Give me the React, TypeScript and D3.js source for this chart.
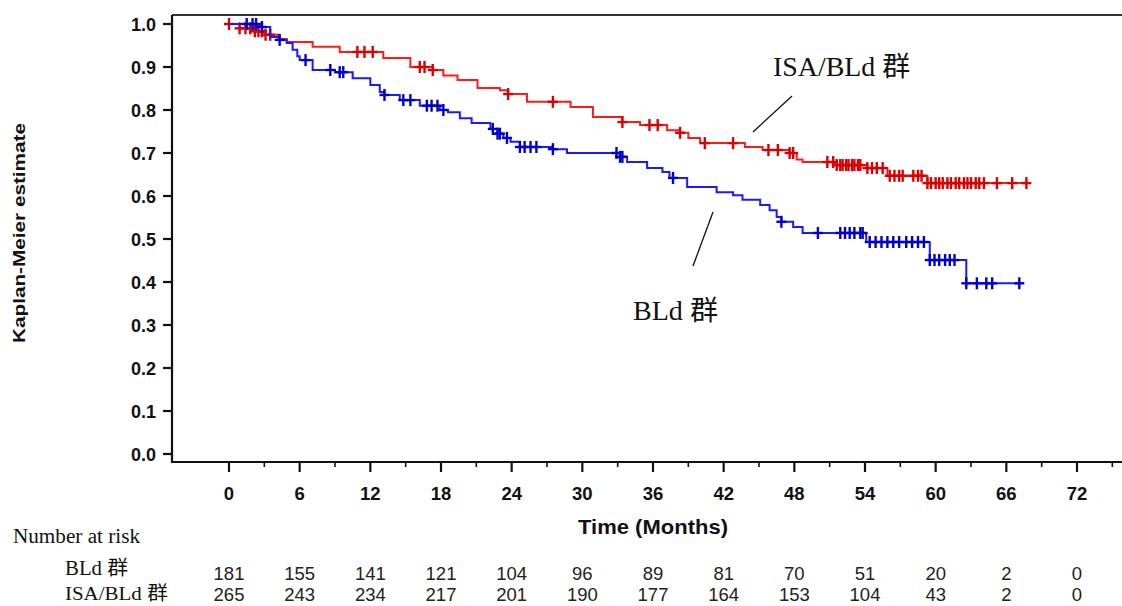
import React from 'react';
import * as d3 from 'd3';

// months and KM estimate after each event
const isaEvents: [number, number][] = [
  [0.9, 0.99], [1.9, 0.983], [3.0, 0.975], [4.2, 0.965], [4.9, 0.958], [7.1, 0.947],
  [9.4, 0.935], [13.1, 0.921], [15.4, 0.9], [17.3, 0.893], [18.2, 0.88], [19.4, 0.87],
  [21.1, 0.851], [23.0, 0.846], [23.7, 0.837], [25.3, 0.819], [29.0, 0.807], [30.9, 0.784],
  [33.4, 0.772], [34.9, 0.765], [37.2, 0.753], [38.3, 0.747], [39.0, 0.735], [40.0, 0.723],
  [43.8, 0.714], [45.3, 0.707], [47.6, 0.7], [48.2, 0.685], [48.7, 0.679], [51.4, 0.672],
  [54.2, 0.665], [55.9, 0.647], [59.3, 0.63],
];
const isaCensored = [
  0, 0.9, 1.4, 1.8, 2.2, 2.5, 2.8, 3.1, 3.5, 10.9, 11.5, 12.2, 16.2, 16.6, 17.3,
  23.7, 27.5, 33.4, 35.7, 36.4, 38.3, 40.4, 42.8, 45.8, 46.6, 47.6, 47.9, 50.8,
  51.3, 51.6, 51.9, 52.1, 52.4, 52.6, 52.9, 53.1, 53.4, 53.6, 54.2, 54.6, 55.0, 55.5,
  56.1, 56.5, 56.9, 57.2, 58.1, 58.5, 58.8, 59.3, 59.6, 60.0, 60.3, 60.6, 61.0, 61.3,
  61.7, 62.0, 62.4, 62.7, 63.0, 63.4, 63.7, 64.1, 65.2, 66.5, 67.7,
];
const isaEnd = 67.8;

const bldEvents: [number, number][] = [
  [2.6, 0.993], [3.5, 0.97], [4.3, 0.963], [4.9, 0.956], [5.4, 0.94], [5.8, 0.925],
  [6.0, 0.916], [7.1, 0.893], [9.0, 0.888], [10.5, 0.874], [12.0, 0.858], [12.8, 0.842],
  [13.2, 0.835], [14.5, 0.823], [16.2, 0.81], [17.9, 0.8], [18.6, 0.795], [19.6, 0.781],
  [20.6, 0.77], [22.2, 0.756], [22.8, 0.745], [23.3, 0.735], [23.9, 0.726], [24.7, 0.714],
  [27.5, 0.709], [28.7, 0.7], [33.2, 0.691], [33.8, 0.679], [35.5, 0.665], [36.8, 0.656],
  [37.4, 0.642], [38.9, 0.621], [41.4, 0.609], [42.8, 0.602], [43.6, 0.591], [45.1, 0.579],
  [45.9, 0.567], [46.5, 0.551], [46.9, 0.54], [47.9, 0.528], [48.7, 0.514], [54.1, 0.493],
  [59.5, 0.451], [62.6, 0.397],
];
const bldCensored = [
  1.5, 2.0, 2.3, 2.8, 4.3, 6.5, 8.6, 9.4, 9.7, 13.2, 14.8, 15.4, 16.8, 17.2, 17.7, 18.2,
  22.4, 22.8, 23.0, 23.6, 24.7, 25.1, 25.6, 26.1, 27.5, 32.9, 33.2, 33.4, 37.7, 46.9,
  50.0, 51.9, 52.3, 52.7, 53.1, 53.6, 53.8, 54.4, 54.9, 55.4, 55.9, 56.4, 56.9, 57.5,
  58.0, 58.5, 59.0, 59.5, 59.9, 60.3, 60.8, 61.2, 61.6, 62.6, 63.5, 64.3, 64.8, 67.1,
];
const bldEnd = 67.3;

const xTicks = [0, 6, 12, 18, 24, 30, 36, 42, 48, 54, 60, 66, 72];
const yTicks = [0, 0.1, 0.2, 0.3, 0.4, 0.5, 0.6, 0.7, 0.8, 0.9, 1.0];
const riskBld = [181, 155, 141, 121, 104, 96, 89, 81, 70, 51, 20, 2, 0];
const riskIsa = [265, 243, 234, 217, 201, 190, 177, 164, 153, 104, 43, 2, 0];

const W = 1122;
const H = 606;
const frame = { left: 172, top: 15, bottom: 462, right: W };
const x = d3.scaleLinear().domain([0, 72]).range([229, 1077]);
const y = d3.scaleLinear().domain([0, 1]).range([454, 24]);

const stepPoints = (events: [number, number][], end: number) => {
  const pts: [number, number][] = [[0, 1]];
  let prev = 1;
  events.forEach(([t, s]) => {
    pts.push([t, prev], [t, s]);
    prev = s;
  });
  pts.push([end, prev]);
  return pts;
};

const survAt = (events: [number, number][], t: number) => {
  let s = 1;
  events.forEach(([et, es]) => { if (et <= t) s = es; });
  return s;
};

const line = d3.line<[number, number]>().x(d => x(d[0])).y(d => y(d[1]));

const sans = '"Liberation Sans", Arial, sans-serif';
const serif = '"Liberation Serif", "Times New Roman", "Noto Sans CJK SC", serif';

function Curve({ events, censored, end, color, mark }: any) {
  return (
    <g>
      <path d={line(stepPoints(events, end)) || ''} fill="none" stroke={color} strokeWidth={2} />
      {censored.map((t: number, i: number) => {
        const cx = x(t);
        const cy = y(survAt(events, t));
        return (
          <g key={i} stroke={mark} strokeWidth={2.4}>
            <line x1={cx - 5} x2={cx + 5} y1={cy} y2={cy} />
            <line x1={cx} x2={cx} y1={cy - 6} y2={cy + 6} />
          </g>
        );
      })}
    </g>
  );
}

export default function App() {
  return (
    <svg width={W} height={H} style={{ position: 'absolute', left: 0, top: 0, background: '#fff' }}>
      {/* frame */}
      <line x1={frame.left} x2={frame.right} y1={frame.top} y2={frame.top} stroke="#333" strokeWidth={2.2} />
      <line x1={frame.left} x2={frame.left} y1={frame.top} y2={frame.bottom + 1} stroke="#111" strokeWidth={2.2} />
      <line x1={frame.left} x2={frame.right} y1={frame.bottom} y2={frame.bottom} stroke="#111" strokeWidth={2.2} />

      {/* y axis */}
      {yTicks.map(v => (
        <g key={v}>
          <line x1={163} x2={frame.left} y1={y(v)} y2={y(v)} stroke="#111" strokeWidth={2.2} />
          <text x={156} y={y(v) + 6.5} textAnchor="end" fontFamily={sans} fontWeight="bold" fontSize={18} fill="#111">
            {v.toFixed(1)}
          </text>
        </g>
      ))}
      <text transform="translate(25,233) rotate(-90)" textAnchor="middle" fontFamily={sans} fontWeight="bold"
        fontSize={16} fill="#111" textLength={220} lengthAdjust="spacingAndGlyphs">
        Kaplan-Meier estimate
      </text>

      {/* x axis */}
      {xTicks.map(v => (
        <g key={v}>
          <line x1={x(v)} x2={x(v)} y1={frame.bottom} y2={472} stroke="#111" strokeWidth={2.2} />
          <text x={x(v)} y={500} textAnchor="middle" fontFamily={sans} fontWeight="bold" fontSize={18.5} fill="#111">
            {v}
          </text>
        </g>
      ))}
      {xTicks.map(v => (
        <line key={'m' + v} x1={x(v + 3)} x2={x(v + 3)} y1={frame.bottom} y2={467} stroke="#111" strokeWidth={1.6} />
      ))}
      <text x={653} y={534} textAnchor="middle" fontFamily={sans} fontWeight="bold" fontSize={21} fill="#111"
        textLength={150} lengthAdjust="spacingAndGlyphs">
        Time (Months)
      </text>

      {/* curves */}
      <Curve events={isaEvents} censored={isaCensored} end={isaEnd} color="#ff1a1a" mark="#d90000" />
      <Curve events={bldEvents} censored={bldCensored} end={bldEnd} color="#1a1aff" mark="#0000c8" />

      {/* annotations */}
      <text x={773} y={76} fontFamily={serif} fontSize={27} fill="#111" textLength={137} lengthAdjust="spacingAndGlyphs">ISA/BLd 群</text>
      <line x1={792} x2={753} y1={96} y2={132} stroke="#111" strokeWidth={1.3} />
      <text x={633} y={320} fontFamily={serif} fontSize={27} fill="#111" textLength={85} lengthAdjust="spacingAndGlyphs">BLd 群</text>
      <line x1={713} x2={693} y1={212} y2={266} stroke="#111" strokeWidth={1.3} />

      {/* number at risk */}
      <text x={13} y={543} fontFamily={serif} fontSize={20} fill="#111" textLength={127} lengthAdjust="spacingAndGlyphs">Number at risk</text>
      <text x={65} y={575} fontFamily={serif} fontSize={20} fill="#111" textLength={63} lengthAdjust="spacingAndGlyphs">BLd 群</text>
      <text x={65} y={600} fontFamily={serif} fontSize={19} fill="#111" textLength={103} lengthAdjust="spacingAndGlyphs">ISA/BLd 群</text>
      {xTicks.map((v, i) => (
        <g key={'r' + v} fontFamily={sans} fontSize={18.5} fill="#222" textAnchor="middle">
          <text x={x(v)} y={580}>{riskBld[i]}</text>
          <text x={x(v)} y={601}>{riskIsa[i]}</text>
        </g>
      ))}
    </svg>
  );
}
